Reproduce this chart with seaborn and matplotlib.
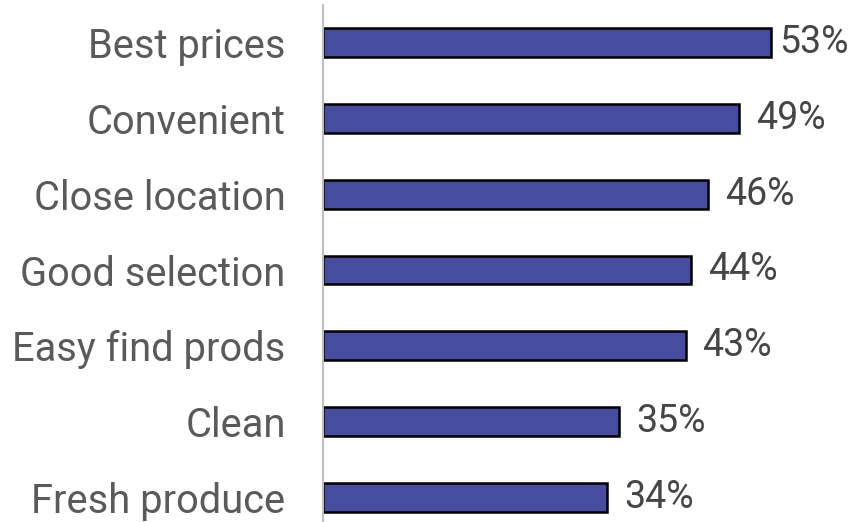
import matplotlib
matplotlib.use("Agg")
import matplotlib.pyplot as plt
import seaborn as sns
import pandas as pd

categories = ["Best prices", "Convenient", "Close location", "Good selection",
              "Easy find prods", "Clean", "Fresh produce"]
values = [53.0, 49.2, 45.6, 43.5, 42.9, 35.0, 33.6]
value_labels = ["53%", "49%", "46%", "44%", "43%", "35%", "34%"]

sns.set_theme(style="white")
plt.rcParams['font.family'] = ['Roboto', 'DejaVu Sans']

df = pd.DataFrame({"cat": categories, "val": values})

fig = plt.figure(figsize=(8.55, 5.22), dpi=100)
W, H = 855, 522
left, top_px, bottom_px = 323, 5, 535
px_per_unit = 8.45
ax = fig.add_axes([left / W, (H - bottom_px) / H, (W - left) / W, (bottom_px - top_px) / H])

sns.barplot(data=df, y="cat", x="val", orient="h", ax=ax, color="#484C9E",
            edgecolor="black", linewidth=1.8, width=0.38, saturation=1)

ax.set_xlim(0, (W - left) / px_per_unit)
ax.set_ylim(6.5, -0.5)
ax.set_xlabel("")
ax.set_ylabel("")
ax.set_xticks([])
for s in ["top", "right", "bottom"]:
    ax.spines[s].set_visible(False)
ax.spines["left"].set_color("#BFBFBF")
ax.spines["left"].set_linewidth(1.5)
ax.tick_params(axis="y", length=0, pad=27, labelsize=28.7, labelcolor="#5A5A5A")

xmax = ax.get_xlim()[1]
for i, (v, lab) in enumerate(zip(values, value_labels)):
    gap = 17 / px_per_unit
    label_w = 72 / px_per_unit
    x = min(v + gap, xmax - label_w - 0.4)
    x = max(x, v + 8 / px_per_unit)
    ax.text(x, i, lab, va="center", ha="left", fontsize=27, color="#454545")

fig.savefig("out.png", dpi=100)
